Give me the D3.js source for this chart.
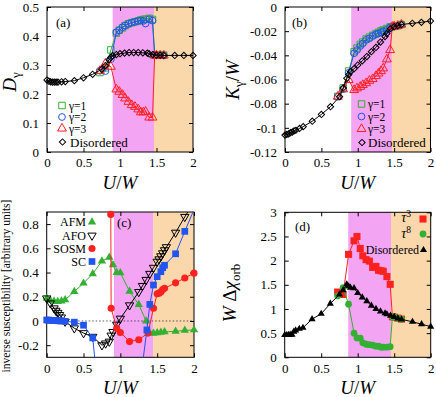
<!DOCTYPE html>
<html><head><meta charset="utf-8">
<script src="https://cdn.jsdelivr.net/npm/d3@7"></script>
<style>body{margin:0;background:#fff} svg{display:block} text{font-family:"Liberation Serif","Times New Roman",serif;}</style>
</head><body><svg id="c" width="436" height="397"></svg>
<script>
// ---------------- data ----------------
const xTicks = [0, 0.5, 1, 1.5, 2];
const ticksA = [0, 0.1, 0.2, 0.3, 0.4, 0.5];
const ticksB = [0, -0.02, -0.04, -0.06, -0.08, -0.1, -0.12];
const ticksC = [-0.2, 0, 0.2, 0.4, 0.6, 0.8];
const ticksD = [0, 0.5, 1, 1.5, 2, 2.5, 3];
const phaseStart = [0.9, 0.91, 0.913, 0.87];
const phaseEnd = [1.466, 1.47, 1.447, 1.456];

const disU = [0, 0.025, 0.05, 0.075, 0.1, 0.125, 0.15, 0.2, 0.25, 0.375, 0.5, 0.625, 0.75, 0.8, 0.85, 0.875, 0.9, 0.95, 1.0, 1.0625, 1.125, 1.1875, 1.25, 1.3125, 1.375, 1.4, 1.45, 1.5, 1.55, 1.6, 1.75, 1.875, 2.0];
const disD = [0.248, 0.244, 0.242, 0.241, 0.241, 0.241, 0.241, 0.242, 0.243, 0.246, 0.256, 0.268, 0.285, 0.298, 0.318, 0.326, 0.332, 0.336, 0.339, 0.341, 0.343, 0.343, 0.343, 0.342, 0.341, 0.338, 0.336, 0.334, 0.334, 0.333, 0.333, 0.333, 0.333];
const disK = [-0.106, -0.1055, -0.105, -0.104, -0.1035, -0.1025, -0.102, -0.1005, -0.099, -0.0945, -0.0889, -0.0825, -0.0742, -0.067, -0.059, -0.056, -0.0535, -0.051, -0.048, -0.0445, -0.041, -0.037, -0.0335, -0.029, -0.0245, -0.022, -0.018, -0.0163, -0.0155, -0.0145, -0.0135, -0.0127, -0.0116];
const disChi = [0.46, 0.46, 0.465, 0.47, 0.47, 0.53, 0.555, 0.59, 0.61, 0.79, 0.9, 1.11, 1.3, 1.39, 1.51, 1.47, 1.44, 1.43, 1.33, 1.24, 1.16, 1.07, 1.0, 0.95, 0.91, 0.89, 0.86, 0.835, 0.805, 0.785, 0.735, 0.685, 0.635];

const ordU = [0.725, 0.8, 0.875, 0.95, 0.99, 1.035, 1.07, 1.115, 1.16, 1.205, 1.25, 1.285, 1.32, 1.35, 1.4, 1.445, 1.475, 1.5, 1.55, 1.6];
const g1D = [0.274, 0.29, 0.352, 0.41, 0.42, 0.428, 0.436, 0.442, 0.446, 0.449, 0.452, 0.455, 0.457, 0.458, 0.461, 0.457, 0.334, 0.334, 0.334, 0.334];
const g2D = [0.28, 0.279, 0.32, 0.413, 0.42, 0.43, 0.436, 0.442, 0.446, 0.449, 0.452, 0.454, 0.452, 0.443, 0.458, 0.453, 0.333, 0.333, 0.333, 0.333];
const g3D = [0.28, 0.305, 0.294, 0.216, 0.208, 0.197, 0.185, 0.173, 0.162, 0.156, 0.147, 0.137, 0.137, 0.139, 0.119, 0.119, 0.333, 0.333, 0.333, 0.333];
const g1K = [-0.074, -0.067, -0.053, -0.037, -0.034, -0.031, -0.029, -0.0265, -0.025, -0.0235, -0.022, -0.021, -0.0198, -0.019, -0.0178, -0.0165, -0.0163, -0.016, -0.0155, -0.0145];
const g2K = [-0.0742, -0.068, -0.0545, -0.0383, -0.0356, -0.0323, -0.0301, -0.0273, -0.026, -0.024, -0.0226, -0.0218, -0.0208, -0.0202, -0.019, -0.0168, -0.0163, -0.016, -0.0155, -0.0145];
const g3K = [-0.0742, -0.0681, -0.0604, -0.0687, -0.0673, -0.066, -0.0645, -0.063, -0.061, -0.0596, -0.0571, -0.055, -0.053, -0.0508, -0.0433, -0.0356, -0.0163, -0.016, -0.0155, -0.0145];
const tau3 = [1.35, 1.3, 2.13, 2.41, 2.5, 2.25, 2.1, 2.02, 1.99, 1.86, 1.88, 1.8, 1.79, 1.78, 1.67, 1.51, 0.84, 0.83, 0.81, 0.79];
const tau8 = [1.27, 1.44, 1.1, 0.5, 0.4, 0.395, 0.3, 0.27, 0.26, 0.25, 0.23, 0.23, 0.21, 0.21, 0.21, 0.22, 0.84, 0.83, 0.81, 0.79];

const afmU = [0, 0.05, 0.1, 0.15, 0.2, 0.25, 0.375, 0.5, 0.625, 0.75, 0.85, 0.9, 0.95, 1.0, 1.125, 1.25, 1.35, 1.4, 1.45, 1.5, 1.55, 1.6, 1.75, 1.875, 2.0];
const afmV = [0.187, 0.17, 0.162, 0.16, 0.165, 0.175, 0.243, 0.312, 0.39, 0.495, 0.525, 0.463, 0.4, 0.398, 0.245, 0.135, 0.0, -0.1, -0.102, -0.098, -0.094, -0.09, -0.085, -0.078, -0.074];
const afoU = [0, 0.05, 0.1, 0.125, 0.15, 0.175, 0.2, 0.25, 0.375, 0.5, 0.625, 0.75, 0.8, 0.85, 0.875, 0.9, 0.95, 1.0, 1.125, 1.25, 1.3, 1.35, 1.4, 1.45, 1.5, 1.525, 1.55, 1.575, 1.6, 1.625, 1.75, 1.875, 2.0];
const afoV = [0.187, 0.146, 0.105, 0.085, 0.068, 0.05, 0.03, -0.005, -0.06, -0.1, -0.13, -0.2, -0.185, -0.17, -0.12, -0.09, -0.03, 0.02, 0.13, 0.24, 0.29, 0.34, 0.39, 0.44, 0.49, 0.51, 0.535, 0.56, 0.585, 0.61, 0.73, 0.86, 0.98];
const sosmU = [0.86, 0.87, 0.875, 0.95, 1.0, 1.125, 1.25, 1.375, 1.45, 1.5, 1.525, 1.55, 1.575, 1.6, 1.75, 1.875, 2.0];
const sosmV = [1.3, 0.88, 0.105, -0.06, -0.095, -0.17, -0.155, -0.1, 0.105, 0.225, 0.23, 0.24, 0.26, 0.27, 0.315, 0.355, 0.395];
const scU = [0, 0.025, 0.05, 0.075, 0.1, 0.125, 0.15, 0.175, 0.2, 0.25, 0.375, 0.5, 0.625, 0.75, 1.25, 1.36, 1.4, 1.45, 1.5, 1.55, 1.575, 1.6, 1.75, 1.875, 2.0];
const scV = [0.008, 0.007, 0.006, 0.005, 0.004, 0.003, 0.002, 0.001, 0.0, -0.003, -0.01, -0.035, -0.14, -0.9, -0.6, -0.074, 0.137, 0.297, 0.366, 0.407, 0.44, 0.46, 0.555, 0.74, 0.92];

// ---------------- style ----------------
const PINK = "#f3a4f3", ORANGE = "#fad8ab";
const GREEN = "#33b033", BLUE = "#2255ee", RED = "#ff2020", BLACK = "#000";
const svg = d3.select("#c");
const defs = svg.append("defs");

function panel(id, box, yDomain, yTicks, ph) {
  const x = d3.scaleLinear().domain([0, 2]).range([box.l, box.r]);
  const y = d3.scaleLinear().domain(yDomain).range([box.b, box.t]);
  const g = svg.append("g");
  g.append("rect").attr("x", x(phaseStart[ph])).attr("y", box.t)
    .attr("width", x(phaseEnd[ph]) - x(phaseStart[ph])).attr("height", box.b - box.t).attr("fill", PINK);
  g.append("rect").attr("x", x(phaseEnd[ph])).attr("y", box.t)
    .attr("width", x(2) - x(phaseEnd[ph])).attr("height", box.b - box.t).attr("fill", ORANGE);
  defs.append("clipPath").attr("id", "clip" + id).append("rect")
    .attr("x", box.l).attr("y", box.t).attr("width", box.r - box.l).attr("height", box.b - box.t);
  const fmt = d => String(d);
  const styleAx = s => { s.select(".domain").remove(); s.attr("font-family", null).attr("font-size", 13);
    s.selectAll("text").attr("fill", "#000"); s.selectAll("line").attr("stroke", "#000"); };
  g.append("g").attr("transform", `translate(0,${box.b})`)
    .call(d3.axisBottom(x).tickValues(xTicks).tickSize(-4).tickPadding(6).tickFormat(fmt)).call(styleAx);
  g.append("g").attr("transform", `translate(0,${box.t})`)
    .call(d3.axisTop(x).tickValues(xTicks).tickSize(-4).tickFormat("")).call(styleAx);
  g.append("g").attr("transform", `translate(${box.l},0)`)
    .call(d3.axisLeft(y).tickValues(yTicks).tickSize(-4).tickPadding(8).tickFormat(fmt)).call(styleAx);
  g.append("g").attr("transform", `translate(${box.r},0)`)
    .call(d3.axisRight(y).tickValues(yTicks).tickSize(-4).tickFormat("")).call(styleAx);
  g.append("rect").attr("x", box.l).attr("y", box.t).attr("width", box.r - box.l)
    .attr("height", box.b - box.t).attr("fill", "none").attr("stroke", "#000").attr("stroke-width", 1);
  const xt = g.append("text").attr("x", (box.l + box.r) / 2).attr("y", box.b + 37)
    .attr("text-anchor", "middle").attr("font-size", 19);
  xt.append("tspan").attr("font-style", "italic").text("U");
  xt.append("tspan").text("/");
  xt.append("tspan").attr("font-style", "italic").text("W");
  return { x, y, g, id };
}

function series(p, xs, ys, color, sym, opts) {
  const pts = xs.map((u, i) => [u, ys[i]]);
  const line = d3.line().x(d => p.x(d[0])).y(d => p.y(d[1]));
  p.g.append("path").attr("d", line(pts)).attr("fill", "none").attr("stroke", color)
    .attr("stroke-width", 1).attr("clip-path", `url(#clip${p.id})`);
  const [y0, y1] = p.y.domain();
  const lo = Math.min(y0, y1), hi = Math.max(y0, y1);
  const vis = pts.filter(d => d[1] >= lo && d[1] <= hi);
  p.g.append("g").selectAll("path").data(vis).join("path")
    .attr("d", d3.symbol().type(sym).size(opts.size))
    .attr("transform", d => `translate(${p.x(d[0])},${p.y(d[1])}) rotate(${opts.rot || 0})`)
    .attr("fill", opts.filled ? color : "none").attr("stroke", color).attr("stroke-width", opts.filled ? 0 : 1);
}

function legendSym(p, x, y, color, sym, opts) {
  p.g.append("path").attr("d", d3.symbol().type(sym).size(opts.size)())
    .attr("transform", `translate(${x},${y}) rotate(${opts.rot || 0})`)
    .attr("fill", opts.filled ? color : "none").attr("stroke", color).attr("stroke-width", opts.filled ? 0 : 1);
}
function txt(p, x, y, s, size, anchor) {
  return p.g.append("text").attr("x", x).attr("y", y).attr("font-size", size)
    .attr("text-anchor", anchor || "start").text(s);
}

const SQ = { size: 42 }, CI = { size: 36 }, TR = { size: 34 }, DI = { size: 20, rot: 45 };

// ---------- panel (a) ----------
const pa = panel("a", { l: 47, r: 193, t: 7, b: 152 }, [0, 0.5], ticksA, 0);
series(pa, ordU, g1D, GREEN, d3.symbolSquare, SQ);
series(pa, ordU, g2D, BLUE, d3.symbolCircle, CI);
series(pa, ordU, g3D, RED, d3.symbolTriangle, TR);
series(pa, disU, disD, BLACK, d3.symbolSquare, DI);
txt(pa, 56, 27, "(a)", 13);
legendSym(pa, 62, 105.5, GREEN, d3.symbolSquare, SQ); txt(pa, 69, 109.5, "γ=1", 11.5);
legendSym(pa, 62, 117, BLUE, d3.symbolCircle, CI); txt(pa, 69, 121, "γ=2", 11.5);
legendSym(pa, 62, 128.5, RED, d3.symbolTriangle, TR); txt(pa, 69, 132.5, "γ=3", 11.5);
legendSym(pa, 62.5, 142, BLACK, d3.symbolSquare, DI); txt(pa, 70, 146.5, "Disordered", 13);
{
  const t = pa.g.append("text").attr("transform", "translate(16,82) rotate(-90)").attr("text-anchor", "middle").attr("font-size", 19);
  t.append("tspan").attr("font-style", "italic").text("D");
  t.append("tspan").attr("font-size", 13).attr("dy", 4).text("γ");
}

// ---------- panel (b) ----------
const pb = panel("b", { l: 285, r: 430.5, t: 7, b: 152 }, [-0.12, 0], ticksB, 1);
series(pb, ordU, g1K, GREEN, d3.symbolSquare, SQ);
series(pb, ordU, g2K, BLUE, d3.symbolCircle, CI);
series(pb, ordU, g3K, RED, d3.symbolTriangle, TR);
series(pb, disU, disK, BLACK, d3.symbolSquare, DI);
txt(pb, 292, 27, "(b)", 13);
legendSym(pb, 361.5, 104, GREEN, d3.symbolSquare, SQ); txt(pb, 368, 108, "γ=1", 11.5);
legendSym(pb, 361.5, 116.5, BLUE, d3.symbolCircle, CI); txt(pb, 368, 120.5, "γ=2", 11.5);
legendSym(pb, 361.5, 129, RED, d3.symbolTriangle, TR); txt(pb, 368, 133, "γ=3", 11.5);
legendSym(pb, 362, 142.5, BLACK, d3.symbolSquare, DI); txt(pb, 368, 147, "Disordered", 13);
{
  const t = pb.g.append("text").attr("transform", "translate(239,80) rotate(-90)").attr("text-anchor", "middle").attr("font-size", 19);
  t.append("tspan").attr("font-style", "italic").text("K");
  t.append("tspan").attr("font-size", 13).attr("dy", 4).text("γ");
  t.append("tspan").attr("dy", -4).text("/");
  t.append("tspan").attr("font-style", "italic").text("W");
}

// ---------- panel (c) ----------
const pc = panel("c", { l: 46.7, r: 194, t: 212, b: 357.3 }, [-0.3, 0.9], ticksC, 2);
pc.g.append("line").attr("x1", pc.x(0)).attr("x2", pc.x(2)).attr("y1", pc.y(0)).attr("y2", pc.y(0))
  .attr("stroke", "#333").attr("stroke-width", 0.8).attr("stroke-dasharray", "1.5,2");
const TRF = { size: 30, filled: true }, TRD = { size: 30, rot: 180 }, CIF = { size: 40, filled: true }, SQF = { size: 45, filled: true };
series(pc, afmU, afmV, GREEN, d3.symbolTriangle, TRF);
series(pc, afoU, afoV, BLACK, d3.symbolTriangle, TRD);
series(pc, sosmU, sosmV, RED, d3.symbolCircle, CIF);
series(pc, scU, scV, BLUE, d3.symbolSquare, SQF);
txt(pc, 117, 227, "(c)", 13);
txt(pc, 86, 226, "AFM", 12, "end"); legendSym(pc, 92, 222, GREEN, d3.symbolTriangle, TRF);
txt(pc, 86, 239.5, "AFO", 12, "end"); legendSym(pc, 92, 235.5, BLACK, d3.symbolTriangle, TRD);
txt(pc, 86, 252.5, "SOSM", 12, "end"); legendSym(pc, 92, 248.5, RED, d3.symbolCircle, CIF);
txt(pc, 86, 265.5, "SC", 12, "end"); legendSym(pc, 92, 261.5, BLUE, d3.symbolSquare, SQF);
pc.g.append("text").attr("transform", "translate(9.5,286) rotate(-90)").attr("text-anchor", "middle")
  .attr("font-size", 11.5).text("inverse susceptibility [arbitrary units]");

// ---------- panel (d) ----------
const pd = panel("d", { l: 284.7, r: 430.7, t: 212.3, b: 357.3 }, [0, 3], ticksD, 3);
const SQR = { size: 50, filled: true }, CIG = { size: 36, filled: true }, TRB = { size: 22, filled: true };
series(pd, ordU, tau3, RED, d3.symbolSquare, SQR);
series(pd, ordU, tau8, GREEN, d3.symbolCircle, CIG);
series(pd, disU, disChi, BLACK, d3.symbolTriangle, TRB);
txt(pd, 295, 231, "(d)", 13);
{
  const t1 = pd.g.append("text").attr("x", 411).attr("y", 222).attr("font-size", 14).attr("text-anchor", "end");
  t1.append("tspan").attr("font-style", "italic").text("τ");
  t1.append("tspan").attr("font-size", 9.5).attr("dy", -5).text("3");
  legendSym(pd, 423, 219, RED, d3.symbolSquare, SQR);
  const t2 = pd.g.append("text").attr("x", 411).attr("y", 238).attr("font-size", 14).attr("text-anchor", "end");
  t2.append("tspan").attr("font-style", "italic").text("τ");
  t2.append("tspan").attr("font-size", 9.5).attr("dy", -5).text("8");
  legendSym(pd, 423, 234, GREEN, d3.symbolCircle, CIG);
  txt(pd, 419, 254, "Disordered", 12, "end");
  legendSym(pd, 423.5, 250, BLACK, d3.symbolTriangle, TRB);
  const t = pd.g.append("text").attr("transform", "translate(236,293) rotate(-90)").attr("text-anchor", "middle").attr("font-size", 19);
  t.append("tspan").attr("font-style", "italic").text("W");
  t.append("tspan").text(" Δ");
  t.append("tspan").attr("font-style", "italic").text("χ");
  t.append("tspan").attr("font-size", 13).attr("dy", 4).text("orb");
}
</script></body></html>
